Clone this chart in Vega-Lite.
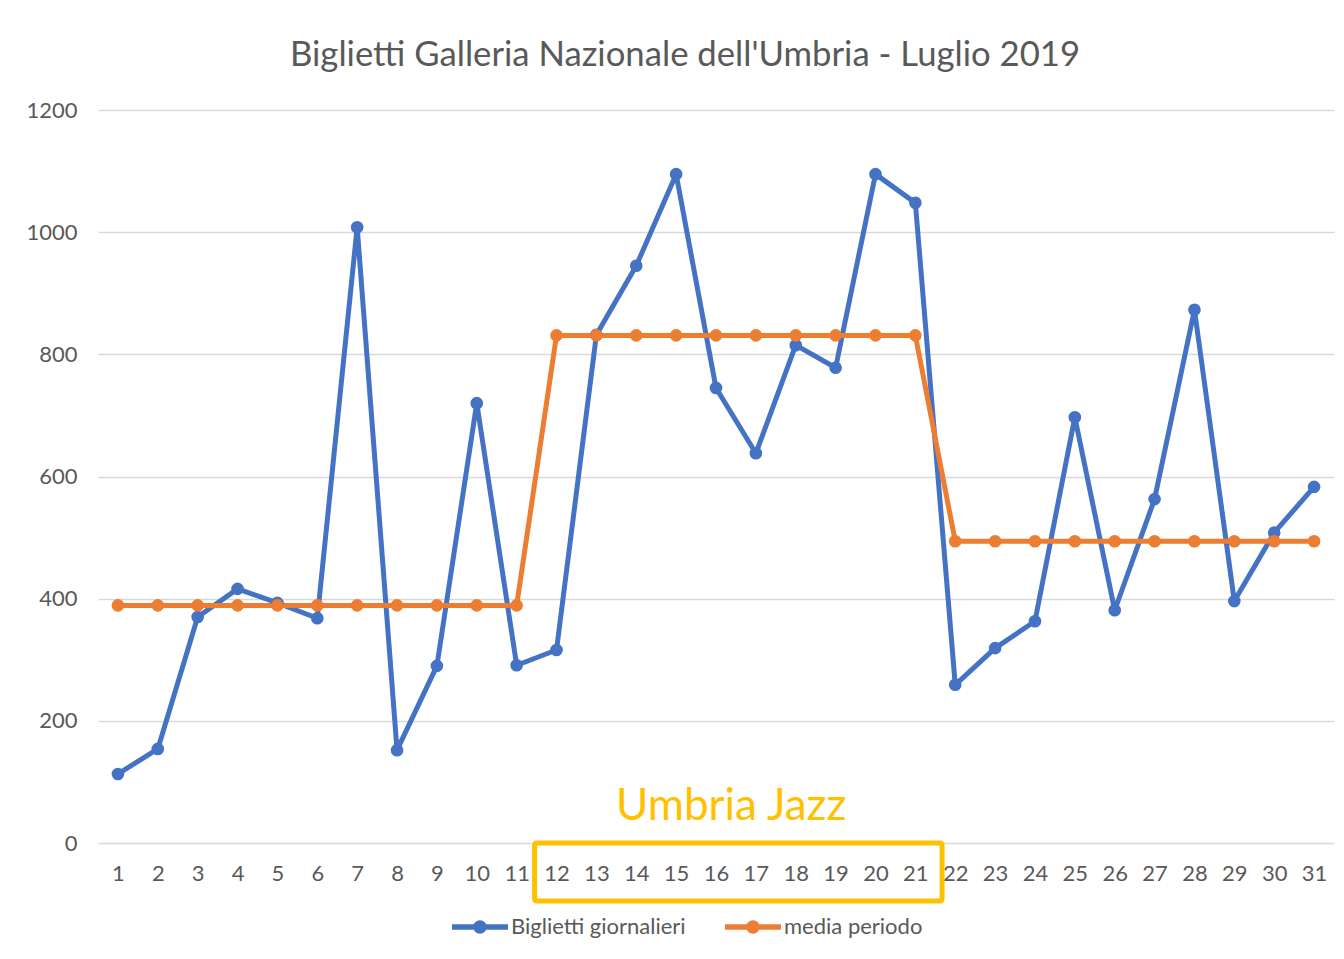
{
  "$schema": "https://vega.github.io/schema/vega-lite/v6.json",
  "autosize": {"type": "none"},
  "width": 1236,
  "height": 733,
  "padding": {"left": 98, "top": 110, "right": 10, "bottom": 116},
  "background": "white",
  "config": {
    "font": "Lato",
    "view": {"stroke": null},
    "axis": {"labelFont": "Lato", "labelColor": "#595959", "labelFontSize": 22}
  },
  "title": {
    "text": "Biglietti Galleria Nazionale dell'Umbria - Luglio 2019",
    "font": "Lato",
    "fontSize": 34.7,
    "fontWeight": "normal",
    "color": "#595959",
    "anchor": "middle",
    "frame": "group",
    "dx": -31,
    "offset": 25
  },
  "datasets": {
    "series": [
      {"day": 1, "serie": "Biglietti giornalieri", "value": 113},
      {"day": 2, "serie": "Biglietti giornalieri", "value": 154},
      {"day": 3, "serie": "Biglietti giornalieri", "value": 370},
      {"day": 4, "serie": "Biglietti giornalieri", "value": 416},
      {"day": 5, "serie": "Biglietti giornalieri", "value": 393},
      {"day": 6, "serie": "Biglietti giornalieri", "value": 368},
      {"day": 7, "serie": "Biglietti giornalieri", "value": 1008},
      {"day": 8, "serie": "Biglietti giornalieri", "value": 152},
      {"day": 9, "serie": "Biglietti giornalieri", "value": 290},
      {"day": 10, "serie": "Biglietti giornalieri", "value": 720},
      {"day": 11, "serie": "Biglietti giornalieri", "value": 291},
      {"day": 12, "serie": "Biglietti giornalieri", "value": 316},
      {"day": 13, "serie": "Biglietti giornalieri", "value": 832},
      {"day": 14, "serie": "Biglietti giornalieri", "value": 945},
      {"day": 15, "serie": "Biglietti giornalieri", "value": 1095},
      {"day": 16, "serie": "Biglietti giornalieri", "value": 745},
      {"day": 17, "serie": "Biglietti giornalieri", "value": 638},
      {"day": 18, "serie": "Biglietti giornalieri", "value": 815},
      {"day": 19, "serie": "Biglietti giornalieri", "value": 778},
      {"day": 20, "serie": "Biglietti giornalieri", "value": 1095},
      {"day": 21, "serie": "Biglietti giornalieri", "value": 1048},
      {"day": 22, "serie": "Biglietti giornalieri", "value": 259},
      {"day": 23, "serie": "Biglietti giornalieri", "value": 319},
      {"day": 24, "serie": "Biglietti giornalieri", "value": 363},
      {"day": 25, "serie": "Biglietti giornalieri", "value": 697},
      {"day": 26, "serie": "Biglietti giornalieri", "value": 381},
      {"day": 27, "serie": "Biglietti giornalieri", "value": 563},
      {"day": 28, "serie": "Biglietti giornalieri", "value": 873},
      {"day": 29, "serie": "Biglietti giornalieri", "value": 396},
      {"day": 30, "serie": "Biglietti giornalieri", "value": 508},
      {"day": 31, "serie": "Biglietti giornalieri", "value": 583},
      {"day": 1, "serie": "media periodo", "value": 389},
      {"day": 2, "serie": "media periodo", "value": 389},
      {"day": 3, "serie": "media periodo", "value": 389},
      {"day": 4, "serie": "media periodo", "value": 389},
      {"day": 5, "serie": "media periodo", "value": 389},
      {"day": 6, "serie": "media periodo", "value": 389},
      {"day": 7, "serie": "media periodo", "value": 389},
      {"day": 8, "serie": "media periodo", "value": 389},
      {"day": 9, "serie": "media periodo", "value": 389},
      {"day": 10, "serie": "media periodo", "value": 389},
      {"day": 11, "serie": "media periodo", "value": 389},
      {"day": 12, "serie": "media periodo", "value": 831},
      {"day": 13, "serie": "media periodo", "value": 831},
      {"day": 14, "serie": "media periodo", "value": 831},
      {"day": 15, "serie": "media periodo", "value": 831},
      {"day": 16, "serie": "media periodo", "value": 831},
      {"day": 17, "serie": "media periodo", "value": 831},
      {"day": 18, "serie": "media periodo", "value": 831},
      {"day": 19, "serie": "media periodo", "value": 831},
      {"day": 20, "serie": "media periodo", "value": 831},
      {"day": 21, "serie": "media periodo", "value": 831},
      {"day": 22, "serie": "media periodo", "value": 494},
      {"day": 23, "serie": "media periodo", "value": 494},
      {"day": 24, "serie": "media periodo", "value": 494},
      {"day": 25, "serie": "media periodo", "value": 494},
      {"day": 26, "serie": "media periodo", "value": 494},
      {"day": 27, "serie": "media periodo", "value": 494},
      {"day": 28, "serie": "media periodo", "value": 494},
      {"day": 29, "serie": "media periodo", "value": 494},
      {"day": 30, "serie": "media periodo", "value": 494},
      {"day": 31, "serie": "media periodo", "value": 494}
    ],
    "box": [{"x0": 11.45, "x1": 21.67, "y0": 0, "y1": -95}],
    "note": [{"x": 16.38, "y": 37.7, "label": "Umbria Jazz"}]
  },
  "layer": [
    {
      "data": {"name": "series"},
      "mark": {"type": "line", "strokeWidth": 5, "strokeJoin": "round"},
      "encoding": {
        "x": {
          "field": "day", "type": "quantitative",
          "scale": {"domain": [0.5, 31.5], "nice": false, "zero": false},
          "axis": {
            "title": null,
            "values": [1,2,3,4,5,6,7,8,9,10,11,12,13,14,15,16,17,18,19,20,21,22,23,24,25,26,27,28,29,30,31],
            "grid": false, "domain": false, "ticks": false, "labelPadding": 20,
            "labelFlush": false, "labelOverlap": false
          }
        },
        "y": {
          "field": "value", "type": "quantitative",
          "scale": {"domain": [0, 1200], "nice": false},
          "axis": {
            "title": null,
            "format": "d",
            "values": [0, 200, 400, 600, 800, 1000, 1200],
            "grid": true, "gridColor": "#d9d9d9", "gridWidth": 1.5,
            "domain": false, "ticks": false, "labelPadding": 21
          }
        },
        "color": {
          "field": "serie", "type": "nominal",
          "scale": {"domain": ["Biglietti giornalieri", "media periodo"], "range": ["#4472C4", "#ED7D31"]},
          "legend": {
            "title": null,
            "orient": "none",
            "direction": "horizontal",
            "columns": 2,
            "legendX": 354,
            "legendY": 789,
            "padding": 0,
            "symbolType": "M-1,-0.1L1,-0.1L1,0.1L-1,0.1Z M-0.24,0A0.24,0.24,0,1,1,0.24,0A0.24,0.24,0,1,1,-0.24,0Z",
            "symbolSize": 3136,
            "symbolStrokeWidth": 0,
            "symbolOpacity": 1,
            "labelFont": "Lato",
            "labelFontSize": 22,
            "labelColor": "#595959",
            "labelOffset": 3,
            "labelLimit": 400,
            "columnPadding": 39
          }
        },
        "order": {"field": "day"}
      }
    },
    {
      "data": {"name": "series"},
      "mark": {"type": "point", "filled": true, "size": 160, "opacity": 1},
      "encoding": {
        "x": {"field": "day", "type": "quantitative"},
        "y": {"field": "value", "type": "quantitative"},
        "color": {"field": "serie", "type": "nominal"}
      }
    },
    {
      "data": {"name": "box"},
      "mark": {"type": "rect", "fill": null, "fillOpacity": 0, "stroke": "#FFC000", "strokeWidth": 5, "cornerRadius": 2},
      "encoding": {
        "x": {"field": "x0", "type": "quantitative"},
        "x2": {"field": "x1"},
        "y": {"field": "y0", "type": "quantitative"},
        "y2": {"field": "y1"}
      }
    },
    {
      "data": {"name": "note"},
      "mark": {"type": "text", "font": "Lato", "fontSize": 44, "color": "#FFC000", "align": "center", "baseline": "alphabetic"},
      "encoding": {
        "x": {"field": "x", "type": "quantitative"},
        "y": {"field": "y", "type": "quantitative"},
        "text": {"field": "label"}
      }
    }
  ]
}
